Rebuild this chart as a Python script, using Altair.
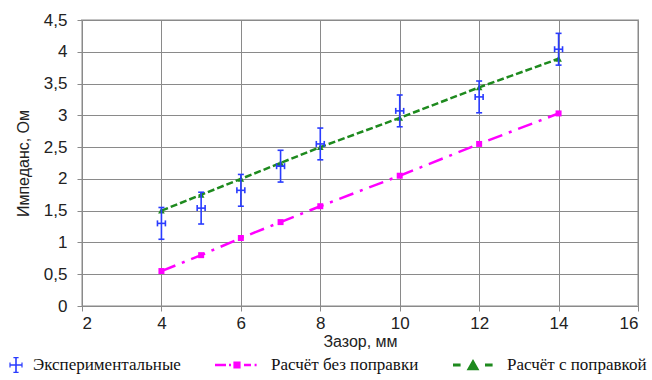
import altair as alt
import pandas as pd

# ---------------- data ----------------
series_names = ["Экспериментальные данные", "Расчёт без поправки", "Расчёт с поправкой"]

exp_gap = [4, 5, 6, 7, 8, 10, 12, 14]
exp_imp = [1.30, 1.54, 1.82, 2.20, 2.55, 3.07, 3.29, 4.04]
exp_dy = [0.25, 0.25, 0.25, 0.25, 0.25, 0.25, 0.25, 0.25]
exp_dx = [0.1, 0.1, 0.1, 0.1, 0.1, 0.1, 0.1, 0.1]

calc_gap = [4, 5, 6, 7, 8, 10, 12, 14]
calc_plain = [0.55, 0.80, 1.07, 1.32, 1.57, 2.05, 2.55, 3.03]
calc_corr = [1.50, 1.75, 2.00, 2.25, 2.50, 2.96, 3.44, 3.89]

x_ticks = [2, 4, 6, 8, 10, 12, 14, 16]
y_ticks = [0, 0.5, 1, 1.5, 2, 2.5, 3, 3.5, 4, 4.5]

BLUE = "#2a3cff"
MAGENTA = "#ff00ff"
GREEN = "#1e8a1e"
GRID = "#8a8a8a"
SERIF = "Liberation Serif"

exp_df = pd.DataFrame({
    "x": exp_gap, "y": exp_imp,
    "ylo": [v - d for v, d in zip(exp_imp, exp_dy)],
    "yhi": [v + d for v, d in zip(exp_imp, exp_dy)],
    "xlo": [v - d for v, d in zip(exp_gap, exp_dx)],
    "xhi": [v + d for v, d in zip(exp_gap, exp_dx)],
})
plain_df = pd.DataFrame({"x": calc_gap, "y": calc_plain})
corr_df = pd.DataFrame({"x": calc_gap, "y": calc_corr})
legend_df = pd.DataFrame({"series": series_names, "x": [None] * 3, "y": [None] * 3})

xs = alt.Scale(domain=[2, 16], nice=False, zero=False)
ys = alt.Scale(domain=[0, 4.5], nice=False)

x_axis = alt.Axis(values=x_ticks, title="Зазор, мм", titlePadding=2, labelPadding=4)
y_axis = alt.Axis(values=y_ticks, title="Импеданс, Ом", titlePadding=12, labelPadding=10,
                  labelExpr="replace(format(datum.value, '~g'), '.', ',')")


def X(field="x"):
    return alt.X(f"{field}:Q", scale=xs, axis=x_axis)


def Y(field="y"):
    return alt.Y(f"{field}:Q", scale=ys, axis=y_axis)


# ---------------- legend symbols (custom paths) ----------------
def rect(x0, x1, y0, y1):
    return f"M{x0},{y0}H{x1}V{y1}H{x0}Z"


bc = 0.85
blue_sym = " ".join([
    rect(bc - 0.04, bc + 0.04, -0.37, 0.37),
    rect(bc - 0.13, bc + 0.13, -0.40, -0.34),
    rect(bc - 0.13, bc + 0.13, 0.34, 0.40),
    rect(bc - 0.30, bc + 0.30, -0.04, 0.04),
    rect(bc - 0.33, bc - 0.27, -0.13, 0.13),
    rect(bc + 0.27, bc + 0.33, -0.13, 0.13),
])
magenta_sym = " ".join([
    rect(-1.1, -0.55, -0.06, 0.06),
    rect(-0.40, -0.30, -0.06, 0.06),
    rect(-0.18, 0.18, -0.17, 0.17),
    rect(0.35, 0.70, -0.06, 0.06),
    rect(0.88, 0.98, -0.06, 0.06),
])
green_sym = " ".join([
    rect(-1.0, -0.62, -0.07, 0.07),
    "M-0.32,0.26L0.32,0.26L0,-0.30Z",
    rect(0.60, 0.98, -0.07, 0.07),
])

nb = "\u00a0"
label_expr = ("datum.label == 'Экспериментальные данные' ? "
              f"['Экспериментальные', '{nb * 11}данные'] : [datum.label, '{nb}']")

legend_layer = alt.Chart(legend_df).mark_point(filled=True, opacity=1).encode(
    x=alt.X("x:Q", scale=xs, axis=x_axis),
    y=alt.Y("y:Q", scale=ys, axis=y_axis),
    color=alt.Color("series:N", scale=alt.Scale(domain=series_names, range=[BLUE, MAGENTA, GREEN]),
                    legend=alt.Legend(
                        orient="none", legendX=-103, legendY=325, direction="horizontal",
                        columns=3, columnPadding=34, symbolSize=1600, labelOffset=14,
                        labelColor="#111", labelFont=SERIF, labelFontSize=17,
                        labelLimit=400, title=None, padding=0, labelExpr=label_expr,
                        symbolStrokeWidth=0)),
    shape=alt.Shape("series:N", scale=alt.Scale(domain=series_names,
                                                range=[blue_sym, magenta_sym, green_sym]),
                    legend=alt.Legend(labelFont=SERIF, labelFontSize=17)),
)

# ---------------- plot layers ----------------
plain_line = alt.Chart(plain_df).mark_line(color=MAGENTA, strokeWidth=2.5, strokeDash=[15, 7, 3, 7]).encode(
    x=X(), y=Y())
plain_pts = alt.Chart(plain_df).mark_point(shape="square", filled=True, color=MAGENTA, size=36, opacity=1).encode(
    x=X(), y=Y())

corr_line = alt.Chart(corr_df).mark_line(color=GREEN, strokeWidth=2.5, strokeDash=[7, 3]).encode(
    x=X(), y=Y())
corr_pts = alt.Chart(corr_df).mark_point(shape="triangle-up", filled=True, color=GREEN, size=45, opacity=1).encode(
    x=X(), y=Y())

ebar_v = alt.Chart(exp_df).mark_rule(color=BLUE, strokeWidth=1.6).encode(
    x=X(), y=Y("ylo"), y2="yhi:Q")
ebar_h = alt.Chart(exp_df).mark_rule(color=BLUE, strokeWidth=1.6).encode(
    x=X("xlo"), x2="xhi:Q", y=Y())
cap_top = alt.Chart(exp_df).mark_tick(color=BLUE, orient="horizontal", size=6, thickness=1.6, opacity=1).encode(
    x=X(), y=Y("yhi"))
cap_bot = alt.Chart(exp_df).mark_tick(color=BLUE, orient="horizontal", size=6, thickness=1.6, opacity=1).encode(
    x=X(), y=Y("ylo"))
cap_l = alt.Chart(exp_df).mark_tick(color=BLUE, orient="vertical", size=6, thickness=1.6, opacity=1).encode(
    x=X("xlo"), y=Y())
cap_r = alt.Chart(exp_df).mark_tick(color=BLUE, orient="vertical", size=6, thickness=1.6, opacity=1).encode(
    x=X("xhi"), y=Y())

chart = alt.layer(
    plain_line, corr_line, plain_pts, corr_pts,
    ebar_v, ebar_h, cap_top, cap_bot, cap_l, cap_r,
    legend_layer,
).properties(
    width=556, height=286,
    autosize=alt.AutoSizeParams(type="none"),
    padding={"left": 82, "top": 20, "right": 14, "bottom": 74},
    background="white",
).configure_view(
    stroke="#c4c4c4", strokeWidth=2,
).configure_axis(
    labelFont="Liberation Sans", labelFontSize=17, labelColor="#222",
    titleFont="Liberation Sans", titleFontSize=16, titleFontWeight="normal", titleColor="#222",
    gridColor=GRID, gridOpacity=1, gridWidth=1,
    domainColor=GRID, domainWidth=1, tickColor=GRID, tickSize=5, tickWidth=1,
).configure_legend(
    labelFont=SERIF, labelFontSize=17,
)

chart.save("out.html", embed_options={"renderer": "svg", "actions": False})
